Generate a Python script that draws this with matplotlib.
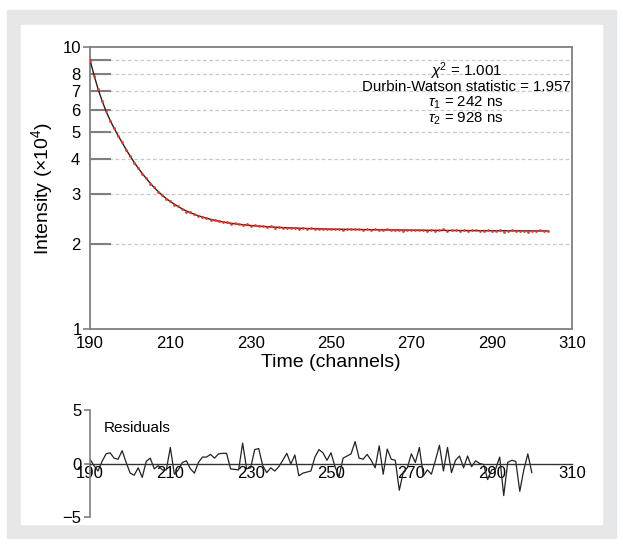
import numpy as np
import matplotlib
matplotlib.use("Agg")
import matplotlib.pyplot as plt
from matplotlib.patches import Rectangle
from matplotlib.ticker import FixedLocator, FixedFormatter

plt.rcParams['font.family'] = ['Liberation Sans', 'DejaVu Sans']
plt.rcParams['mathtext.fontset'] = 'custom'
plt.rcParams['mathtext.rm'] = 'Liberation Sans'
plt.rcParams['mathtext.it'] = 'Liberation Sans:italic'

# channels for the decay data and the residuals
channels = np.arange(190, 305)
res_channels = np.arange(190, 301)

# measured counts (x10^4), one per channel
counts = [8.95, 7.92, 7.12, 6.43, 5.95, 5.48, 5.17, 4.84, 4.60, 4.32,
          4.11, 3.88, 3.73, 3.55, 3.43, 3.28, 3.18, 3.06, 2.99, 2.89,
          2.84, 2.76, 2.72, 2.67, 2.61, 2.59, 2.555, 2.51, 2.50, 2.47,
          2.44, 2.43, 2.42, 2.39, 2.39, 2.36, 2.38, 2.35, 2.34, 2.36,
          2.32, 2.33, 2.31, 2.32, 2.30, 2.31, 2.29, 2.30, 2.28, 2.29,
          2.28, 2.285, 2.27, 2.28, 2.265, 2.275, 2.26, 2.27, 2.255, 2.27,
          2.265, 2.255, 2.26, 2.25, 2.265, 2.26, 2.255, 2.26, 2.245, 2.255,
          2.25, 2.26, 2.245, 2.25, 2.255, 2.24, 2.25, 2.25, 2.235, 2.25,
          2.245, 2.25, 2.24, 2.245, 2.235, 2.25, 2.23, 2.245, 2.255, 2.23,
          2.245, 2.24, 2.225, 2.24, 2.235, 2.245, 2.24, 2.225, 2.235, 2.24,
          2.225, 2.235, 2.24, 2.215, 2.235, 2.24, 2.22, 2.235, 2.23, 2.215,
          2.235, 2.23, 2.24, 2.225, 2.22]

# fitted bi-exponential curve (x10^4)
fit = [9.0, 7.95, 7.1, 6.45, 5.92, 5.5, 5.15, 4.85, 4.58, 4.33,
       4.1, 3.9, 3.72, 3.56, 3.42, 3.29, 3.17, 3.07, 2.98, 2.9,
       2.83, 2.77, 2.715, 2.665, 2.62, 2.585, 2.55, 2.52, 2.495, 2.47,
       2.45, 2.43, 2.413, 2.398, 2.385, 2.373, 2.362, 2.352, 2.344, 2.336,
       2.329, 2.322, 2.316, 2.311, 2.306, 2.301, 2.297, 2.293, 2.289, 2.286,
       2.283, 2.28, 2.277, 2.275, 2.272, 2.27, 2.268, 2.266, 2.264, 2.262,
       2.26, 2.259, 2.258, 2.257, 2.256, 2.255, 2.254, 2.253, 2.252, 2.251,
       2.25, 2.249, 2.248, 2.247, 2.246, 2.245, 2.245, 2.244, 2.243, 2.243,
       2.242, 2.241, 2.241, 2.24, 2.239, 2.239, 2.238, 2.237, 2.237, 2.236,
       2.236, 2.235, 2.235, 2.234, 2.234, 2.233, 2.233, 2.232, 2.232, 2.231,
       2.231, 2.231, 2.23, 2.23, 2.23, 2.229, 2.229, 2.229, 2.228, 2.228,
       2.228, 2.227, 2.227, 2.227, 2.226]

residuals = [0.4, -0.2, -0.7, 0.2, 0.9, 1.0, 0.5, 0.4, 1.2, 0.1,
             -0.9, -1.1, -0.4, -1.3, 0.2, 0.5, -0.5, -0.2, -0.6, -0.6,
             1.5, -1.0, -0.6, 0.1, 0.25, -0.5, -0.9, 0.1, 0.6, 0.6,
             0.85, 0.5, 0.9, 0.95, 0.95, -0.5, -0.55, -0.6, 1.9, -0.5,
             -0.4, 1.3, 1.4, -0.2, -0.85, -0.4, -0.7, -0.3, 0.3, 0.95,
             -0.05, 0.8, -1.15, -0.9, -0.8, -0.7, 0.6, 1.3, 1.0, 0.3,
             1.0, -0.3, -1.25, 0.5, 0.7, 0.9, 2.05, 0.5, 0.4, 0.85,
             0.3, -0.4, 1.65, -1.0, 1.35, 0.4, 0.3, -2.5, -0.8, -0.4,
             0.9, 0.1, 1.5, -1.15, -0.6, -1.0, 0.3, 1.7, -0.7, 1.5,
             -0.85, 0.3, 0.7, -0.4, 0.7, -0.3, 0.25, 0.0, -0.1, -1.5,
             -0.6, -0.5, 0.6, -3.0, 0.1, 0.3, 0.2, -2.6, -0.6, 0.9,
             -0.85]

xticks = [190, 210, 230, 250, 270, 290, 310]
stats_text = [r'$\chi^2$ = 1.001', 'Durbin-Watson statistic = 1.957',
              r'$\tau_1$ = 242 ns', r'$\tau_2$ = 928 ns']

fig = plt.figure(figsize=(6.23, 5.46), dpi=100)
W, H = 623, 546
# grey frame round the figure
fig.patches.append(Rectangle((7 / W, 1 - 538 / H), 609 / W, 528 / H,
                             transform=fig.transFigure, color='#e6e7e8', zorder=-2))
fig.patches.append(Rectangle((21 / W, 1 - 524 / H), 581 / W, 499 / H,
                             transform=fig.transFigure, color='white', zorder=-1))

spine_grey = '#7f7f7f'

# main decay plot
ax = fig.add_axes([90 / W, 1 - 329 / H, 482 / W, 282 / H])
ax.set_yscale('log')
ax.set_xlim(190, 310)
ax.set_ylim(1, 10)
ax.plot(channels, fit, color='#222222', lw=1.0, zorder=3)
ax.plot(channels, counts, 'o', color='#ff3020', ms=2.0, mew=0, zorder=4)

ax.yaxis.set_major_locator(FixedLocator([1, 10]))
ax.yaxis.set_major_formatter(FixedFormatter(['1', '10']))
ax.yaxis.set_minor_locator(FixedLocator([2, 3, 4, 5, 6, 7, 8, 9]))
ax.yaxis.set_minor_formatter(FixedFormatter(['2', '3', '4', '5', '6', '7', '8', '']))
ax.tick_params(axis='y', which='major', direction='out', length=5, width=1.2,
               color=spine_grey, labelsize=12, pad=1)
ax.tick_params(axis='y', which='minor', direction='in', length=15, width=1.5,
               color=spine_grey, labelsize=12, pad=7)
ax.grid(True, which='minor', axis='y', ls=(0, (3, 2)), color='#c8c8c8', lw=0.9)
ax.set_xticks(xticks)
ax.tick_params(axis='x', length=0, labelsize=12, pad=5)
for s in ax.spines.values():
    s.set_color(spine_grey)
    s.set_linewidth(1.3)
ax.set_xlabel('Time (channels)', fontsize=14, labelpad=2)
ax.set_ylabel(r'Intensity (×10$^4$)', fontsize=14, labelpad=6)

for i, line in enumerate(stats_text):
    ax.text(0.78, 0.915 - i * 0.056, line, transform=ax.transAxes,
            ha='center', va='center', fontsize=10.8)

# residuals panel
ar = fig.add_axes([90 / W, 1 - 517 / H, 482 / W, 107 / H])
ar.plot(res_channels, residuals, color='#222222', lw=0.9)
ar.set_xlim(190, 310)
ar.set_ylim(-5, 5)
ar.set_yticks([-5, 0, 5])
ar.set_yticklabels(['\u22125', '0', '5'])
ar.set_xticks(xticks)
ar.spines['top'].set_visible(False)
ar.spines['right'].set_visible(False)
ar.spines['bottom'].set_position(('data', 0))
ar.spines['bottom'].set_color('#333333')
ar.spines['bottom'].set_linewidth(1.0)
ar.spines['left'].set_color(spine_grey)
ar.spines['left'].set_linewidth(1.2)
ar.tick_params(axis='x', length=0, labelsize=12, pad=2)
ar.tick_params(axis='y', length=4, width=1.2, color=spine_grey, labelsize=12, pad=2)
ar.text(0.028, 0.83, 'Residuals', transform=ar.transAxes, fontsize=11,
        ha='left', va='center')
ar.patch.set_alpha(0)

fig.savefig('out.png', dpi=100)
